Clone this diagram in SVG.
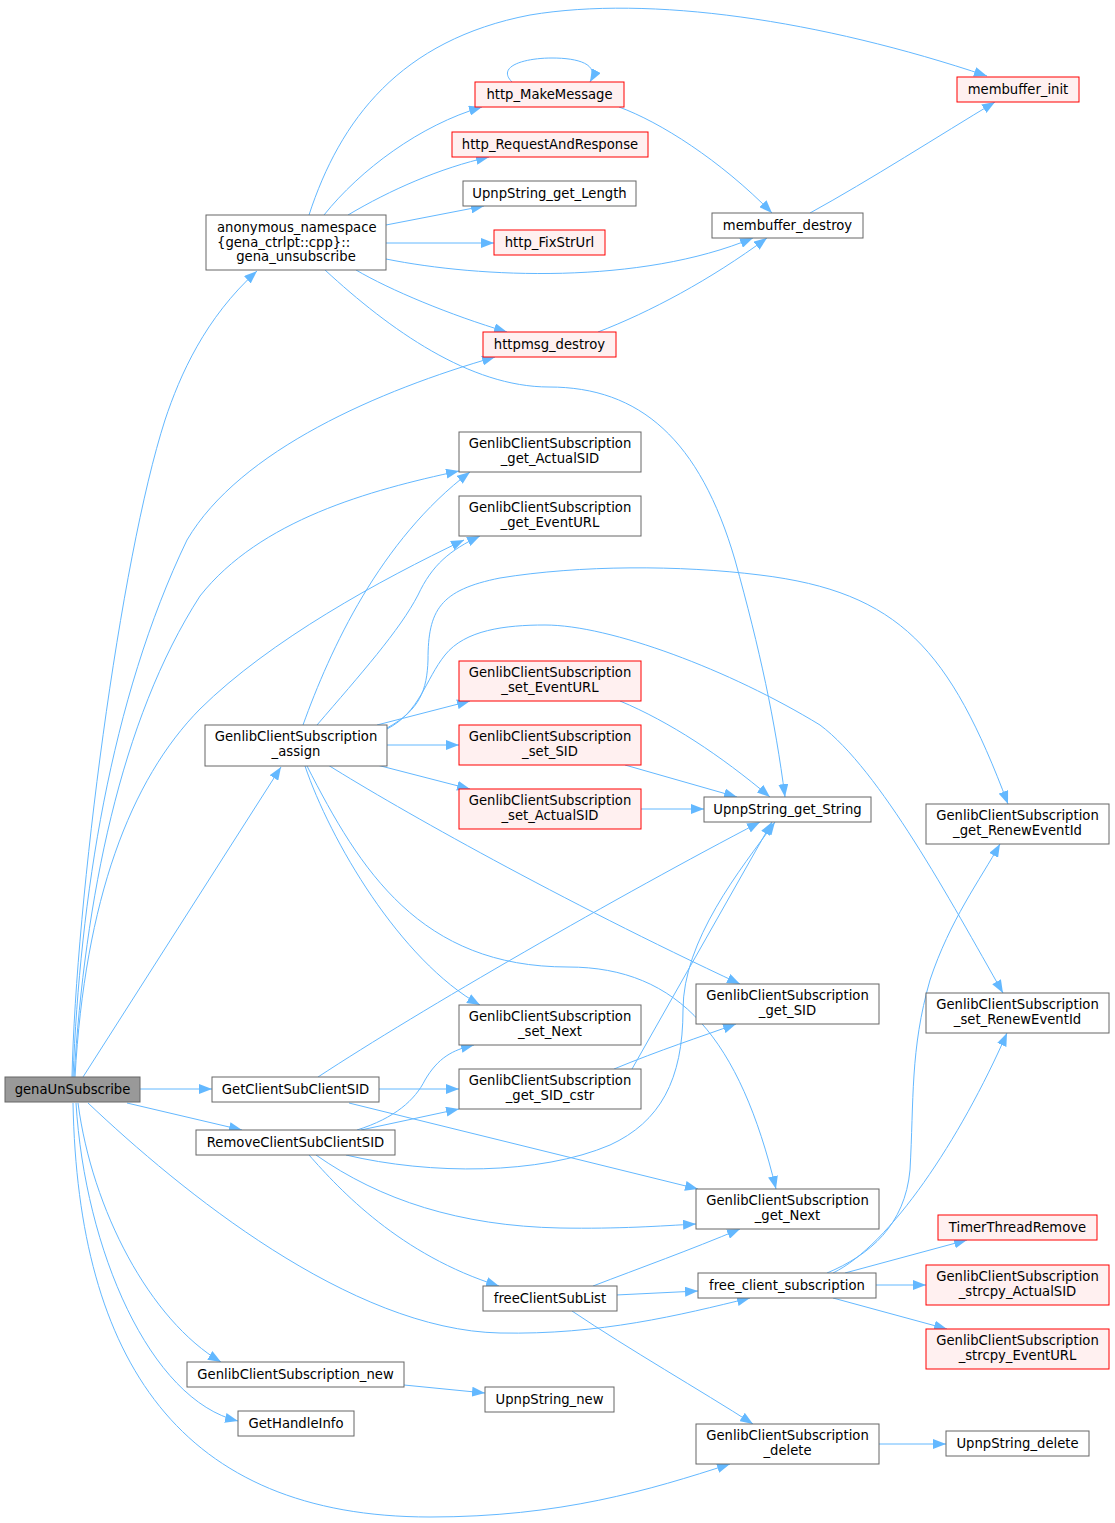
<svg xmlns="http://www.w3.org/2000/svg" width="1115" height="1523" viewBox="0 0 1115 1523">
<style>
text{font-family:"DejaVu Sans","Liberation Sans",sans-serif;font-size:13.2px;fill:#000;text-anchor:middle}
.st{text-anchor:start}
.n rect{fill:#fff;stroke:#666;stroke-width:1}
.r rect{fill:#fff0f0;stroke:#ff0000;stroke-width:1}
.g rect{fill:#999;stroke:#666;stroke-width:1}
#edges path{fill:none;stroke:#63b8ff;stroke-width:1;marker-end:url(#a)}
</style>
<defs>
<marker id="a" markerUnits="userSpaceOnUse" markerWidth="13" markerHeight="10" refX="13" refY="5" orient="auto">
<path d="M0,0 L13,5 L0,10 z" fill="#63b8ff"/>
</marker>
</defs>
<rect width="1115" height="1523" fill="#fff"/>
<g id="edges">
<path d="M72,1077 C76,900 120,560 165,420 C180,375 205,318 257,271"/>
<path d="M73,1077 C80,900 110,700 187,540 C240,450 380,390 495,357"/>
<path d="M74,1077 C85,900 120,720 200,596 C260,520 370,490 459,471"/>
<path d="M75,1077 C85,900 130,780 200,709 C270,640 380,580 464,540"/>
<path d="M83,1077 L281,767"/>
<path d="M140,1089 L212,1089"/>
<path d="M127,1103 L242,1130"/>
<path d="M88,1103 C180,1190 350,1330 500,1333 C600,1335 680,1315 750,1298"/>
<path d="M78,1103 C92,1210 150,1320 221,1362"/>
<path d="M76,1103 C85,1250 150,1400 238,1421"/>
<path d="M73,1103 C78,1360 180,1517 430,1517 C560,1517 650,1490 730,1464"/>
<path d="M309,215 C340,120 400,40 530,15 C650,-5 820,20 987,76"/>
<path d="M324,215 C360,170 420,125 482,107"/>
<path d="M348,215 C390,190 440,168 489,157"/>
<path d="M386,225 L484,206"/>
<path d="M386,243 L494,243"/>
<path d="M386,259 C480,278 640,285 753,238"/>
<path d="M356,270 C390,290 450,315 507,332"/>
<path d="M325,270 C390,330 470,387 549,387 C640,387 700,440 735,560 C760,650 775,720 785,797"/>
<path d="M512,82 C496,66 525,58 552,58 C578,58 600,64 590,82"/>
<path d="M619,107 C660,122 720,160 772,213"/>
<path d="M810,213 C870,180 940,135 995,102"/>
<path d="M598,332 C650,312 710,280 767,238"/>
<path d="M303,725 C330,650 380,540 470,472"/>
<path d="M317,725 C360,675 400,630 418,595 C432,565 450,550 480,536"/>
<path d="M387,728 C420,710 427,690 428,660 C428,610 440,590 500,578 C580,565 680,565 760,575 C900,592 950,650 1008,804"/>
<path d="M387,729 C420,712 425,680 445,655 C465,630 505,625 545,625 C610,625 730,670 820,725 C880,770 950,900 1003,993"/>
<path d="M377,725 L470,701"/>
<path d="M387,745 L459,745"/>
<path d="M377,765 L470,789"/>
<path d="M328,765 C400,810 560,900 740,984"/>
<path d="M305,766 C330,840 400,960 480,1005"/>
<path d="M307,766 C360,870 420,967 568,967 C680,967 740,1040 776,1189"/>
<path d="M620,701 C670,722 720,755 770,797"/>
<path d="M625,765 L737,797"/>
<path d="M641,809 L704,809"/>
<path d="M318,1077 C420,1010 620,895 760,822"/>
<path d="M379,1089 L459,1089"/>
<path d="M349,1103 L698,1189"/>
<path d="M632,1069 L772,822"/>
<path d="M614,1069 C660,1050 700,1037 736,1024"/>
<path d="M357,1130 C395,1118 415,1100 425,1080 C438,1058 452,1050 474,1045"/>
<path d="M361,1130 L459,1109"/>
<path d="M346,1155 C430,1175 540,1175 610,1145 C660,1122 683,1080 683,1010 C683,940 740,870 775,822"/>
<path d="M316,1155 C380,1200 460,1226 560,1228 C620,1229 660,1226 696,1224"/>
<path d="M309,1155 C340,1190 400,1255 499,1286"/>
<path d="M593,1286 C640,1268 690,1250 740,1229"/>
<path d="M616,1295 L698,1291"/>
<path d="M572,1311 C630,1350 700,1390 753,1424"/>
<path d="M827,1273 C870,1255 905,1225 910,1170 C914,1100 910,1050 930,980 C950,920 980,880 1000,844"/>
<path d="M833,1273 C890,1245 960,1140 1007,1033"/>
<path d="M845,1273 L967,1240"/>
<path d="M876,1285 L926,1285"/>
<path d="M833,1298 L947,1329"/>
<path d="M404,1385 L485,1393"/>
<path d="M879,1444 L946,1444"/>
</g>
<g id="genaUnSubscribe" class="g"><rect x="5" y="1077" width="135" height="25"/><text x="72.5" y="1094">genaUnSubscribe</text></g>
<g id="gena_unsubscribe" class="n"><rect x="206" y="215" width="180" height="55"/><text class="st" x="217" y="232">anonymous_namespace</text><text class="st" x="217" y="246.5">{gena_ctrlpt::cpp}::</text><text x="296" y="261">gena_unsubscribe</text></g>
<g id="http_MakeMessage" class="r"><rect x="475" y="82" width="149" height="25"/><text x="549.5" y="99">http_MakeMessage</text></g>
<g id="http_RequestAndResponse" class="r"><rect x="452" y="132" width="196" height="25"/><text x="550" y="149">http_RequestAndResponse</text></g>
<g id="UpnpString_get_Length" class="n"><rect x="463" y="181" width="173" height="25"/><text x="549.5" y="198">UpnpString_get_Length</text></g>
<g id="http_FixStrUrl" class="r"><rect x="494" y="230" width="111" height="25"/><text x="549.5" y="247">http_FixStrUrl</text></g>
<g id="httpmsg_destroy" class="r"><rect x="483" y="332" width="133" height="25"/><text x="549.5" y="349">httpmsg_destroy</text></g>
<g id="membuffer_init" class="r"><rect x="957" y="77" width="122" height="25"/><text x="1018" y="94">membuffer_init</text></g>
<g id="membuffer_destroy" class="n"><rect x="712" y="213" width="151" height="25"/><text x="787.5" y="230">membuffer_destroy</text></g>
<g id="get_ActualSID" class="n"><rect x="459" y="432" width="182" height="40"/><text x="550" y="448">GenlibClientSubscription</text><text x="550" y="463">_get_ActualSID</text></g>
<g id="get_EventURL" class="n"><rect x="459" y="496" width="182" height="40"/><text x="550" y="512">GenlibClientSubscription</text><text x="550" y="527">_get_EventURL</text></g>
<g id="set_EventURL" class="r"><rect x="459" y="661" width="182" height="40"/><text x="550" y="677">GenlibClientSubscription</text><text x="550" y="692">_set_EventURL</text></g>
<g id="set_SID" class="r"><rect x="459" y="725" width="182" height="40"/><text x="550" y="741">GenlibClientSubscription</text><text x="550" y="756">_set_SID</text></g>
<g id="set_ActualSID" class="r"><rect x="459" y="789" width="182" height="40"/><text x="550" y="805">GenlibClientSubscription</text><text x="550" y="820">_set_ActualSID</text></g>
<g id="assign" class="n"><rect x="205" y="725" width="182" height="41"/><text x="296" y="741">GenlibClientSubscription</text><text x="296" y="756">_assign</text></g>
<g id="UpnpString_get_String" class="n"><rect x="704" y="797" width="167" height="25"/><text x="787.5" y="814">UpnpString_get_String</text></g>
<g id="get_RenewEventId" class="n"><rect x="926" y="804" width="183" height="40"/><text x="1017.5" y="820">GenlibClientSubscription</text><text x="1017.5" y="835">_get_RenewEventId</text></g>
<g id="get_SID" class="n"><rect x="696" y="984" width="183" height="40"/><text x="787.5" y="1000">GenlibClientSubscription</text><text x="787.5" y="1015">_get_SID</text></g>
<g id="set_RenewEventId" class="n"><rect x="926" y="993" width="183" height="40"/><text x="1017.5" y="1009">GenlibClientSubscription</text><text x="1017.5" y="1024">_set_RenewEventId</text></g>
<g id="set_Next" class="n"><rect x="459" y="1005" width="182" height="40"/><text x="550" y="1021">GenlibClientSubscription</text><text x="550" y="1036">_set_Next</text></g>
<g id="get_SID_cstr" class="n"><rect x="459" y="1069" width="182" height="40"/><text x="550" y="1085">GenlibClientSubscription</text><text x="550" y="1100">_get_SID_cstr</text></g>
<g id="GetClientSubClientSID" class="n"><rect x="212" y="1077" width="167" height="25"/><text x="295.5" y="1094">GetClientSubClientSID</text></g>
<g id="RemoveClientSubClientSID" class="n"><rect x="196" y="1130" width="199" height="25"/><text x="295.5" y="1147">RemoveClientSubClientSID</text></g>
<g id="get_Next" class="n"><rect x="696" y="1189" width="183" height="40"/><text x="787.5" y="1205">GenlibClientSubscription</text><text x="787.5" y="1220">_get_Next</text></g>
<g id="free_client_subscription" class="n"><rect x="698" y="1273" width="178" height="25"/><text x="787" y="1290">free_client_subscription</text></g>
<g id="freeClientSubList" class="n"><rect x="483" y="1286" width="134" height="25"/><text x="550" y="1303">freeClientSubList</text></g>
<g id="TimerThreadRemove" class="r"><rect x="938" y="1215" width="159" height="25"/><text x="1017.5" y="1232">TimerThreadRemove</text></g>
<g id="strcpy_ActualSID" class="r"><rect x="926" y="1265" width="183" height="40"/><text x="1017.5" y="1281">GenlibClientSubscription</text><text x="1017.5" y="1296">_strcpy_ActualSID</text></g>
<g id="strcpy_EventURL" class="r"><rect x="926" y="1329" width="183" height="40"/><text x="1017.5" y="1345">GenlibClientSubscription</text><text x="1017.5" y="1360">_strcpy_EventURL</text></g>
<g id="delete" class="n"><rect x="696" y="1424" width="183" height="40"/><text x="787.5" y="1440">GenlibClientSubscription</text><text x="787.5" y="1455">_delete</text></g>
<g id="UpnpString_delete" class="n"><rect x="946" y="1431" width="143" height="25"/><text x="1017.5" y="1448">UpnpString_delete</text></g>
<g id="GenlibClientSubscription_new" class="n"><rect x="187" y="1362" width="217" height="25"/><text x="295.5" y="1379">GenlibClientSubscription_new</text></g>
<g id="UpnpString_new" class="n"><rect x="485" y="1387" width="129" height="25"/><text x="549.5" y="1404">UpnpString_new</text></g>
<g id="GetHandleInfo" class="n"><rect x="238" y="1411" width="116" height="25"/><text x="296" y="1428">GetHandleInfo</text></g>
</svg>
